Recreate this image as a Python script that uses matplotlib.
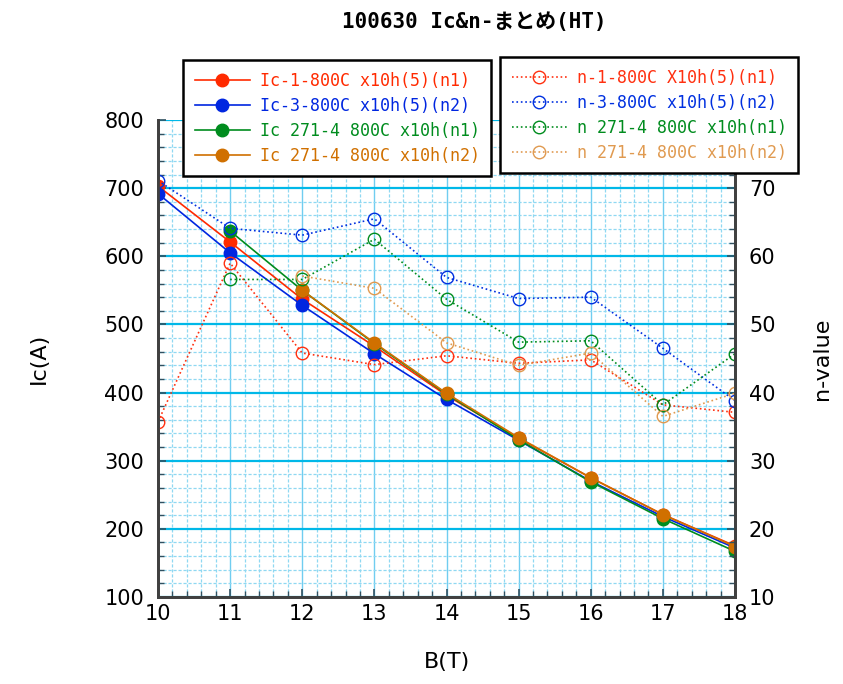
import numpy as np
import matplotlib
matplotlib.use("Agg")
import matplotlib.pyplot as plt
from matplotlib.ticker import MultipleLocator

nan = np.nan
B = [10, 11, 12, 13, 14, 15, 16, 17, 18]

# Ic (A)
ic_1 = [703, 621, 537, 468, 396, 333, 275, 221, 175]
ic_3 = [692, 605, 528, 457, 390, 330, 270, 218, 172]
ic_271_n1 = [nan, 637, 550, 472, 398, 331, 269, 215, 167]
ic_271_n2 = [nan, nan, 550, 473, 399, 334, 275, 221, 174]

# n-value
n_1 = [35.7, 59.0, 45.8, 44.1, 45.4, 44.3, 44.8, 38.2, 37.1]
n_3 = [71.1, 64.1, 63.1, 65.5, 56.9, 53.8, 54.0, 46.5, 38.8]
n_271_n1 = [nan, 56.6, 56.6, 62.5, 53.7, 47.4, 47.6, 38.2, 45.7]
n_271_n2 = [nan, nan, 57.1, 55.3, 47.3, 44.0, 45.8, 36.5, 39.9]

n_ticks = [10, 20, 30, 40, 50, 60, 70, 80]
n_ticklabels = ["10", "20", "30", "40", "50", "60", "70", ""]  # 80 sits under the legend

ic_labels = ["Ic-1-800C x10h(5)(n1)", "Ic-3-800C x10h(5)(n2)",
             "Ic 271-4 800C x10h(n1)", "Ic 271-4 800C x10h(n2)"]
n_labels = ["n-1-800C X10h(5)(n1)", "n-3-800C x10h(5)(n2)",
            "n 271-4 800C x10h(n1)", "n 271-4 800C x10h(n2)"]
colors = ["#ff2a00", "#0026e0", "#008c1e", "#d07000"]
n_colors = ["#ff3010", "#0030e0", "#008c1e", "#e09a50"]

fig = plt.figure(figsize=(8.43, 6.84), dpi=100)
ax1 = fig.add_axes([158/843, 1-597/684, (735-158)/843, (597-120)/684])
ax2 = ax1.twinx()

# grid
ax1.set_axisbelow(True)
ax1.yaxis.grid(True, which="major", color="#00b8e8", lw=1.6, ls="-")
ax1.xaxis.grid(True, which="major", color="#70cdf0", lw=1.0, ls="-")
ax1.grid(True, which="minor", color="#8fd8f2", lw=0.9, ls=(0, (2.5, 1.5)))

for i in range(4):
    ax1.plot(B, [ic_1, ic_3, ic_271_n1, ic_271_n2][i], "-o", color=colors[i],
             lw=1.2, ms=9, label=ic_labels[i], zorder=3)
    ax2.plot(B, [n_1, n_3, n_271_n1, n_271_n2][i], ":o", color=n_colors[i],
             lw=1.2, ms=9, mfc="none", mew=1.0, label=n_labels[i])

ax1.set_xlim(10, 18)
ax1.set_ylim(100, 800)
ax2.set_ylim(10, 80)
ax1.xaxis.set_major_locator(MultipleLocator(1))
ax1.xaxis.set_minor_locator(MultipleLocator(0.2))
ax1.yaxis.set_major_locator(MultipleLocator(100))
ax1.yaxis.set_minor_locator(MultipleLocator(20))
ax2.set_yticks(n_ticks, n_ticklabels)
ax2.yaxis.set_minor_locator(MultipleLocator(2))

for ax in (ax1, ax2):
    ax.tick_params(which="both", direction="in", color="#305060", labelsize=15)
    ax.tick_params(which="major", length=6, width=1.2)
    ax.tick_params(which="minor", length=4, width=1)
    for s in ("left", "right", "bottom"):
        ax.spines[s].set_color("#404040")
        ax.spines[s].set_linewidth(2)
    ax.spines["top"].set_visible(False)
ax1.tick_params(axis="x", pad=5)
ax1.tick_params(axis="y", pad=10)
ax2.tick_params(axis="y", pad=10)

ax1.set_xlabel("B(T)", fontsize=16, labelpad=20)
ax1.set_ylabel("Ic(A)", fontsize=16, labelpad=40)
ax2.set_ylabel("n-value", fontsize=16, labelpad=26)

fig.text(0.563, 0.968, "100630 Ic&n-まとめ(HT)", ha="center", va="center",
         fontsize=15, fontweight="bold",
         family=["DejaVu Sans Mono", "Noto Sans CJK JP"])

leg_kw = dict(loc="upper left", prop={"family": "DejaVu Sans Mono", "size": 12},
              labelcolor="linecolor", frameon=True, fancybox=False,
              edgecolor="black", framealpha=1, handlelength=3.3,
              labelspacing=0.42, borderpad=0.7, handletextpad=0.6,
              borderaxespad=0)
h1, l1 = ax1.get_legend_handles_labels()
leg1 = fig.legend(h1, l1, bbox_to_anchor=(183/843, 1-60/684), **leg_kw)
leg1.get_frame().set_linewidth(1.8)
h2, l2 = ax2.get_legend_handles_labels()
leg2 = fig.legend(h2, l2, bbox_to_anchor=(500/843, 1-57/684), **leg_kw)
leg2.get_frame().set_linewidth(1.8)

fig.savefig("out.png", dpi=100)
